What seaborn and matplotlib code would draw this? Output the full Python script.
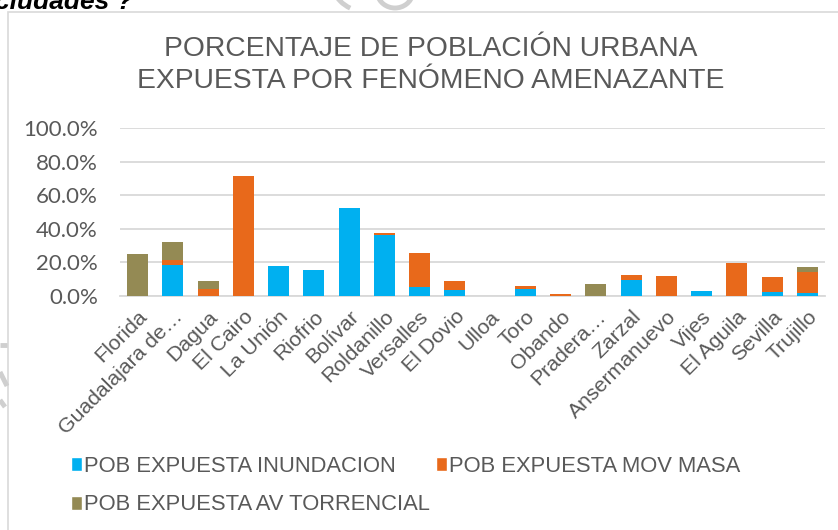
import matplotlib
matplotlib.use("Agg")
import matplotlib.pyplot as plt
from matplotlib.patches import Patch, Rectangle, Arc
from matplotlib.lines import Line2D
import numpy as np
import pandas as pd
import seaborn as sns

# Municipios y porcentaje de población urbana expuesta por fenómeno
municipios = ["Florida", "Guadalajara de…", "Dagua", "El Cairo", "La Unión", "Riofrio",
              "Bolívar", "Roldanillo", "Versalles", "El Dovio", "Ulloa", "Toro", "Obando",
              "Pradera…", "Zarzal", "Ansermanuevo", "Vijes", "El Aguila", "Sevilla", "Trujillo"]
inundacion = [0.0, 18.5, 0.0, 0.0, 17.9, 15.5, 52.2, 36.1, 5.4, 3.8, 0.0, 4.0, 0.0,
              0.0, 9.4, 0.0, 3.2, 0.0, 2.6, 2.0]
mov_masa = [0.0, 3.0, 4.0, 71.6, 0.0, 0.0, 0.0, 1.2, 20.3, 4.9, 0.0, 2.2, 1.2,
            0.0, 3.2, 12.2, 0.0, 19.6, 8.6, 12.3]
av_torrencial = [24.9, 10.8, 4.7, 0.0, 0.0, 0.0, 0.0, 0.0, 0.0, 0.0, 0.0, 0.0, 0.0,
                 7.0, 0.0, 0.0, 0.0, 0.0, 0.0, 3.0]
series = ["POB EXPUESTA INUNDACION", "POB EXPUESTA MOV MASA", "POB EXPUESTA AV TORRENCIAL"]
colores = ["#00B0F0", "#E8691B", "#948A54"]
ticks_y = [0, 20, 40, 60, 80, 100]

df = pd.DataFrame({"municipio": municipios,
                   "inund": inundacion, "masa": mov_masa, "torr": av_torrencial})
df["acum_masa"] = df["inund"] + df["masa"]
df["acum_torr"] = df["acum_masa"] + df["torr"]

GRIS = "#595959"
sns.set_theme(style="white")
plt.rcParams["font.family"] = ["Liberation Sans", "DejaVu Sans"]

fig = plt.figure(figsize=(8.38, 5.30), dpi=100)
W, H = 838, 530
ax = fig.add_axes([120 / W, (H - 296) / H, 705 / W, 168 / H])

# Barras apiladas: se dibujan los acumulados de mayor a menor
for col, color in zip(["acum_torr", "acum_masa", "inund"], colores[::-1]):
    sns.barplot(data=df, x="municipio", y=col, color=color, width=0.6,
                saturation=1, linewidth=0, ax=ax, zorder=3)

ax.set_ylim(0, 100)
ax.set_xlim(-0.5, len(municipios) - 0.5)
ax.set_yticks(ticks_y)
ax.set_yticklabels([f"{v:.1f}%" for v in ticks_y], family=["Lato", "DejaVu Sans"],
                   fontsize=16, color=GRIS)
ax.yaxis.grid(True, color="#D9D9D9", linewidth=1.3, zorder=0)
ax.xaxis.grid(False)
for s in ["top", "right", "left"]:
    ax.spines[s].set_visible(False)
ax.spines["bottom"].set_color("#D9D9D9")
ax.spines["bottom"].set_linewidth(1.3)
ax.tick_params(axis="both", length=0)
ax.tick_params(axis="y", pad=16)
ax.set_xlabel("")
ax.set_ylabel("")
ax.set_xticks(range(len(municipios)))
ax.set_xticklabels(municipios, rotation=45, ha="right", rotation_mode="anchor",
                   fontsize=15.3, color=GRIS)
ax.tick_params(axis="x", pad=8)

# Título
fig.text(431 / W, 1 - 65 / H, "PORCENTAJE DE POBLACIÓN URBANA\nEXPUESTA POR FENÓMENO AMENAZANTE",
         ha="center", va="center", fontsize=20.3, color=GRIS, linespacing=1.33)

# Leyenda
handles = [Patch(facecolor=colores[0], label=series[0]),
           Patch(facecolor=colores[2], label=series[2]),
           Patch(facecolor=colores[1], label=series[1])]
fig.legend(handles=handles, ncol=2, loc="upper left", bbox_to_anchor=(62 / W, 1 - 447 / H),
           frameon=False, fontsize=15.8, labelcolor=GRIS, handlelength=0.5, handleheight=0.6,
           handletextpad=0.12, columnspacing=0.25, labelspacing=0.8, borderaxespad=0)

# Marco del gráfico
fig.patches.append(Rectangle((8 / W, -0.1), 1.2, (H - 12) / H + 0.1, transform=fig.transFigure,
                             fill=False, edgecolor="#D9D9D9", linewidth=1.2))

# Trazos tenues de la marca de agua
def px(x, y):
    return x / W, 1 - y / H

marca = "#CFCFCF"
fig.patches.append(Arc(px(395, -9), 36 / W, 34 / H, theta1=195, theta2=345,
                       transform=fig.transFigure, edgecolor=marca, linewidth=3.5))
fig.patches.append(Arc(px(368, -16), 70 / W, 56 / H, theta1=200, theta2=245,
                       transform=fig.transFigure, edgecolor=marca, linewidth=3.5))
for (x0, y0), (x1, y1) in [((0, 345), (7, 345)), ((0, 372), (7, 386)), ((0, 400), (5, 407))]:
    fig.lines.append(Line2D([x0 / W, x1 / W], [1 - y0 / H, 1 - y1 / H], transform=fig.transFigure,
                            color=marca, linewidth=3.5, solid_capstyle="butt"))

# Texto superior recortado
fig.text(133 / W, 1 - 9 / H, "ciudades ?", ha="right", va="baseline", fontsize=19,
         fontweight="bold", fontstyle="italic", color="black")

fig.savefig("out.png", dpi=100)
